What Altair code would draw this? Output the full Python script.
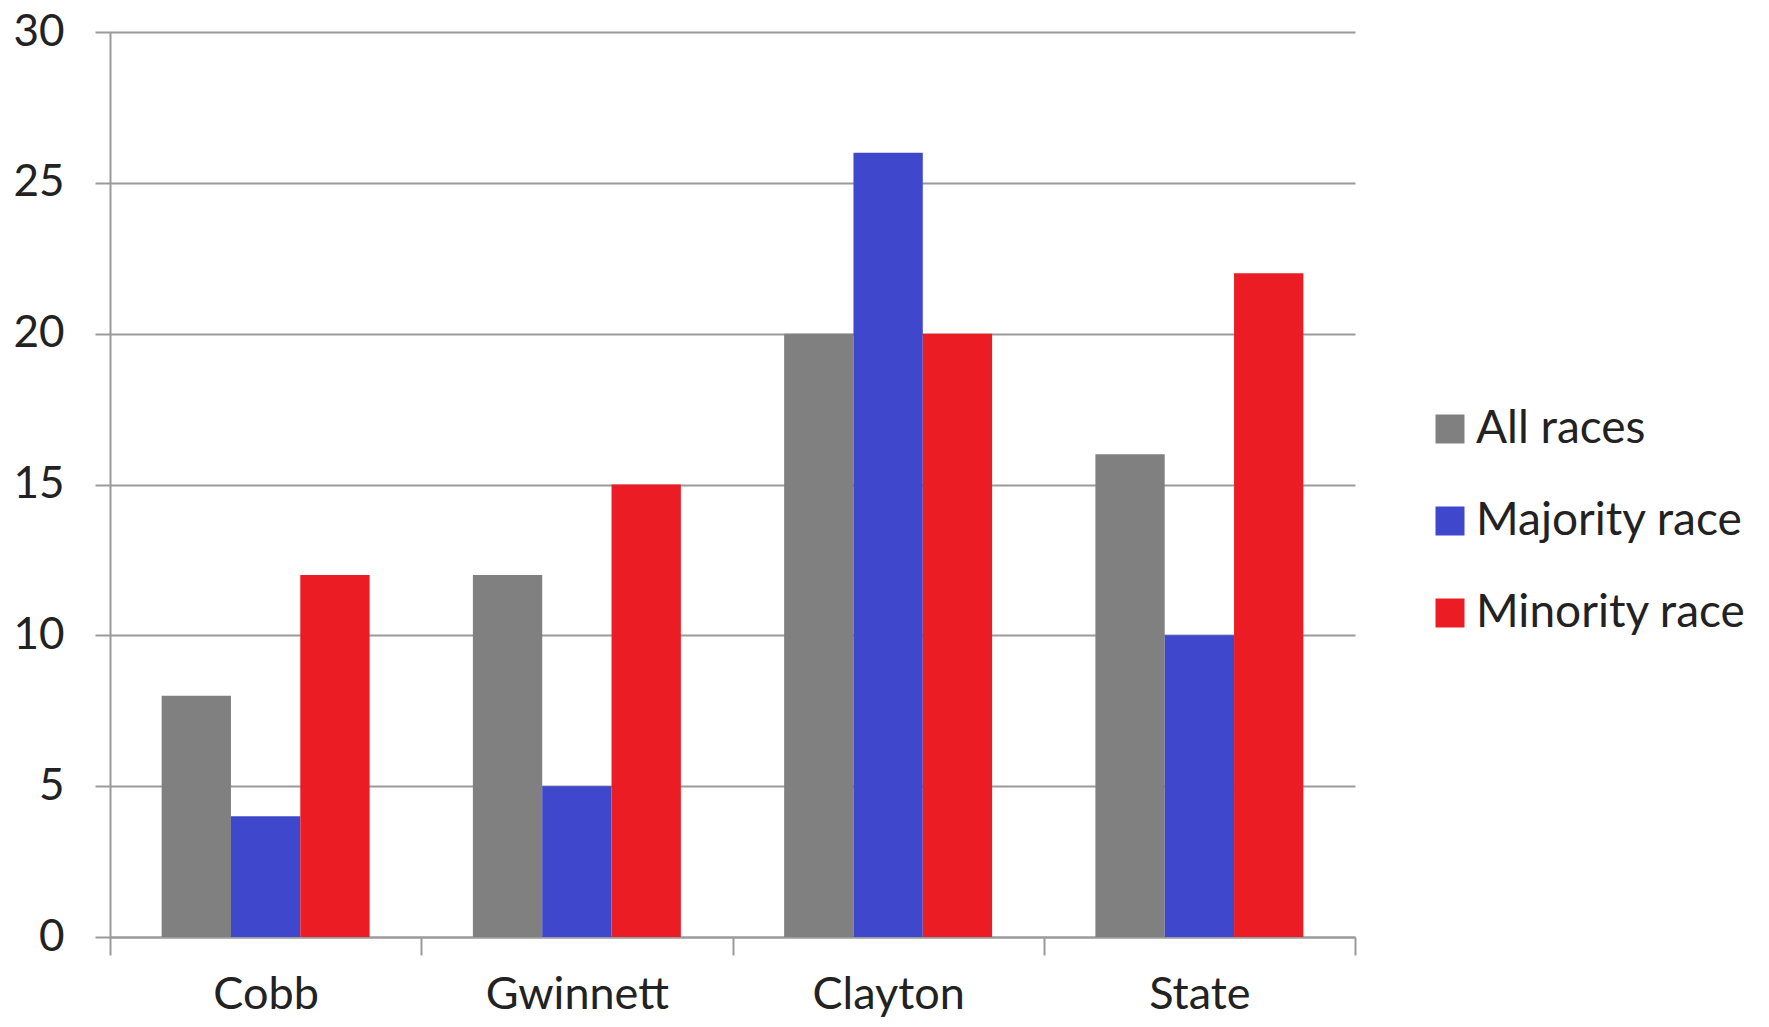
import altair as alt
import pandas as pd

categories = ["Cobb", "Gwinnett", "Clayton", "State"]
series = ["All races", "Majority race", "Minority race"]
all_races = [8, 12, 20, 16]
majority_race = [4, 5, 26, 10]
minority_race = [12, 15, 20, 22]
colors = ["#808080", "#3F48CC", "#EC1C24"]
y_ticks = [0, 5, 10, 15, 20, 25, 30]

rows = []
for i, c in enumerate(categories):
    for s, vals in zip(series, [all_races, majority_race, minority_race]):
        rows.append({"county": c, "series": s, "value": vals[i]})
df = pd.DataFrame(rows)

FONT = "Lato"
TXT = "#222222"
GRID = "#9a9a9a"
FS = 46

chart = alt.Chart(df).mark_bar(strokeWidth=0).encode(
    x=alt.X("county:N", sort=categories, title=None,
            scale=alt.Scale(paddingInner=0, paddingOuter=0),
            axis=alt.Axis(labelAngle=0, tickBand="extent", ticks=True, tickSize=18,
                          tickColor=GRID, tickWidth=2, domainColor=GRID, domainWidth=2,
                          labelFont=FONT, labelFontSize=45, labelColor=TXT,
                          labelLimit=0, labelPadding=17, grid=False)),
    xOffset=alt.XOffset("series:N", sort=series,
                        scale=alt.Scale(paddingInner=0, paddingOuter=0.745)),
    y=alt.Y("value:Q", title=None,
            scale=alt.Scale(domain=[0, 30], nice=False),
            axis=alt.Axis(values=y_ticks, tickSize=15, tickColor=GRID, tickWidth=2,
                          domainColor=GRID, domainWidth=2, gridColor=GRID, gridWidth=2,
                          labelFont=FONT, labelFontSize=44, labelColor=TXT,
                          labelPadding=31)),
    color=alt.Color("series:N", sort=series,
                    scale=alt.Scale(domain=series, range=colors),
                    legend=alt.Legend(title=None, orient="none", legendX=1317, legendY=374,
                                      symbolType="square", symbolSize=841,
                                      symbolStrokeWidth=0, labelFont=FONT,
                                      labelFontSize=FS, labelColor=TXT, labelLimit=0,
                                      labelOffset=3, rowPadding=46)),
).properties(
    width=1245, height=905,
    autosize=alt.AutoSizeParams(type="none"),
    padding={"left": 102, "top": 24, "right": 406, "bottom": 82},
).configure_view(stroke=None)

chart.save("out.html", embed_options={"renderer": "svg", "actions": False})
